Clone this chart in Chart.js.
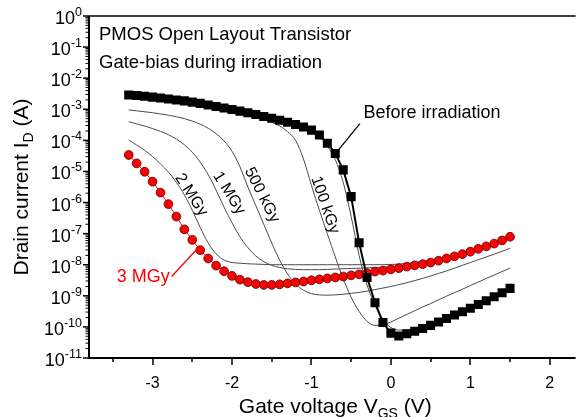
<!DOCTYPE html>
<html><head><meta charset="utf-8">
<script src="https://cdn.jsdelivr.net/npm/chart.js@4.4.1/dist/chart.umd.min.js"></script>
<style>html,body{margin:0;padding:0;background:#fff;}canvas{display:block;}</style>
</head><body>
<canvas id="c" width="580" height="417"></canvas>
<script>
// Gate voltage (V) sample points
const gateVoltage = [-3.3,-3.2,-3.1,-3.0,-2.9,-2.8,-2.7,-2.6,-2.5,-2.4,-2.3,-2.2,-2.1,-2.0,
  -1.9,-1.8,-1.7,-1.6,-1.5,-1.4,-1.3,-1.2,-1.1,-1.0,-0.9,-0.8,-0.7,-0.6,-0.5,-0.4,-0.3,-0.2,-0.1,
  0.0,0.1,0.2,0.3,0.4,0.5,0.6,0.7,0.8,0.9,1.0,1.1,1.2,1.3,1.4,1.5];

// log10 of drain current (A)
const beforeLog10 = [-2.54,-2.56,-2.58,-2.61,-2.64,-2.67,-2.70,-2.73,-2.77,-2.81,-2.86,-2.91,-2.96,-3.01,
  -3.06,-3.11,-3.17,-3.23,-3.29,-3.35,-3.42,-3.49,-3.57,-3.67,-3.83,-4.09,-4.42,-4.95,-5.81,-7.29,-8.41,-9.22,-9.86,
  -10.20,-10.29,-10.22,-10.14,-10.05,-9.95,-9.84,-9.73,-9.62,-9.51,-9.40,-9.28,-9.16,-9.03,-8.90,-8.76];
const mgy3Log10 = [-4.47,-4.74,-5.01,-5.33,-5.68,-6.05,-6.45,-6.86,-7.20,-7.53,-7.80,-8.03,-8.21,-8.36,
  -8.48,-8.56,-8.62,-8.65,-8.65,-8.63,-8.60,-8.57,-8.54,-8.50,-8.47,-8.44,-8.41,-8.38,-8.34,-8.31,-8.27,-8.22,-8.19,
  -8.15,-8.11,-8.06,-8.02,-7.98,-7.93,-7.87,-7.80,-7.73,-7.66,-7.58,-7.49,-7.41,-7.32,-7.22,-7.10];
const hugLog10 = [-2.57,-2.59,-2.61,-2.64,-2.67,-2.70,-2.73,-2.76,-2.80,-2.84,-2.89,-2.94,-2.99,-3.04,
  -3.09,-3.14,-3.20,-3.26,-3.32,-3.38,-3.45,-3.52,-3.60,-3.71,-3.88,-4.18,-4.62,-5.35,-6.45,-7.70,-8.65,-9.30,-9.75,
  -10.02,-10.10,-10.10,-10.05,-9.98,-9.90,-9.80,-9.69,-9.58,-9.47,-9.36,-9.24,-9.12,-8.99,-8.86,-8.72];
const kgy100Log10 = [-2.60,-2.62,-2.64,-2.67,-2.70,-2.73,-2.76,-2.79,-2.83,-2.87,-2.92,-2.97,-3.02,-3.07,
  -3.12,-3.18,-3.25,-3.33,-3.42,-3.54,-3.72,-4.00,-4.60,-5.45,-6.25,-7.00,-7.75,-8.45,-9.05,-9.50,-9.82,-9.95,-9.93,
  -9.84,-9.72,-9.60,-9.48,-9.36,-9.25,-9.13,-9.01,-8.90,-8.79,-8.67,-8.56,-8.44,-8.33,-8.22,-8.11];
const kgy500Log10 = [-3.02,-3.05,-3.08,-3.11,-3.15,-3.19,-3.24,-3.30,-3.38,-3.48,-3.61,-3.78,-4.02,-4.35,
  -4.85,-5.50,-6.10,-6.70,-7.30,-7.85,-8.30,-8.62,-8.82,-8.93,-8.97,-8.98,-8.97,-8.95,-8.92,-8.89,-8.85,-8.80,-8.75,
  -8.70,-8.64,-8.58,-8.51,-8.44,-8.36,-8.28,-8.20,-8.11,-8.02,-7.93,-7.84,-7.75,-7.66,-7.57,-7.47];
const mgy1Log10 = [-3.40,-3.47,-3.54,-3.62,-3.71,-3.82,-3.96,-4.14,-4.38,-4.70,-5.10,-5.60,-6.15,-6.65,
  -7.10,-7.45,-7.72,-7.90,-8.02,-8.09,-8.13,-8.15,-8.16,-8.16,-8.16,-8.15,-8.14,-8.13,-8.12,-8.11,-8.10,-8.09,-8.08,
  -8.06,-8.04,-8.02,-7.99,-7.95,-7.91,-7.86,-7.80,-7.74,-7.67,-7.60,-7.52,-7.44,-7.36,-7.27,-7.17];
const mgy2Log10 = [-3.99,-4.15,-4.32,-4.52,-4.76,-5.02,-5.35,-5.75,-6.25,-6.80,-7.30,-7.65,-7.85,-7.93,
  -7.95,-7.97,-7.98,-7.99,-8.00,-8.00,-8.00,-8.00,-8.00,-8.00,-8.00,-8.00,-8.00,-8.00,-8.00,-8.00,-8.00,-8.00,-8.00,
  -7.99,-7.98,-7.96,-7.93,-7.90,-7.86,-7.81,-7.76,-7.70,-7.63,-7.56,-7.49,-7.41,-7.33,-7.24,-7.15];

// Axis ticks
const xTickValues = [-3,-2,-1,0,1,2];
const xTickLabels = ['-3','-2','-1','0','1','2'];
const xMinorTicks = [-3.5,-2.5,-1.5,-0.5,0.5,1.5];
const yDecadeExponents = [0,-1,-2,-3,-4,-5,-6,-7,-8,-9,-10,-11];

// Curve labels (anchored in data space)
const curveLabelText = ['2 MGy','1 MGy','500 kGy','100 kGy'];
const curveLabelV = [-2.514,-2.037,-1.623,-0.829];
const curveLabelLog10 = [-5.756,-5.70,-5.756,-6.077];
const curveLabelAngle = [57,58,63,71];

const FONT = '"Liberation Sans", Arial, Helvetica, sans-serif';
const pts = logs => gateVoltage.map((v,i)=>({x:v, y:Math.pow(10, logs[i])}));
const thin = (label, logs) => ({label, data:pts(logs), borderColor:'#4a4a4a', borderWidth:1,
  pointRadius:0, cubicInterpolationMode:'monotone', fill:false});

function richWidth(ctx, parts){
  let w=0; for(const p of parts){ ctx.font = p.size+'px '+FONT; w += ctx.measureText(p.t).width; } return w;
}
function drawRich(ctx, parts, x, y){
  for(const p of parts){ ctx.font = p.size+'px '+FONT; ctx.fillText(p.t, x, y + (p.dy||0)); x += ctx.measureText(p.t).width; }
}

const decorPlugin = {
  id:'decor',
  afterDraw(ch){
    const {ctx, chartArea:a, scales:{x, y}} = ch;
    ctx.save();
    ctx.strokeStyle = '#000'; ctx.fillStyle = '#000';
    // frame (right side is outside the picture)
    ctx.lineWidth = 1.5;
    ctx.beginPath(); ctx.moveTo(a.right+2, a.top); ctx.lineTo(a.left, a.top); ctx.stroke();
    ctx.lineWidth = 2;
    ctx.beginPath(); ctx.moveTo(a.left, a.top); ctx.lineTo(a.left, a.bottom); ctx.lineTo(a.right+2, a.bottom); ctx.stroke();
    // x ticks
    ctx.lineWidth = 1.5;
    for(const v of xTickValues){ const px = Math.round(x.getPixelForValue(v)); ctx.beginPath(); ctx.moveTo(px, a.bottom); ctx.lineTo(px, a.bottom+7); ctx.stroke(); }
    for(const v of xMinorTicks){ const px = Math.round(x.getPixelForValue(v)); ctx.beginPath(); ctx.moveTo(px, a.bottom); ctx.lineTo(px, a.bottom+4); ctx.stroke(); }
    // y ticks
    for(const e of yDecadeExponents){
      const py = y.getPixelForValue(Math.pow(10,e));
      ctx.lineWidth = 1.5; ctx.beginPath(); ctx.moveTo(a.left-6, py); ctx.lineTo(a.left, py); ctx.stroke();
      if(e < 0){
        ctx.lineWidth = 1;
        for(let m=2;m<=9;m++){
          const pm = y.getPixelForValue(m*Math.pow(10,e));
          ctx.beginPath(); ctx.moveTo(a.left-3.5, pm); ctx.lineTo(a.left, pm); ctx.stroke();
        }
      }
    }
    // x tick labels
    ctx.font = '16px '+FONT; ctx.textAlign = 'center'; ctx.textBaseline = 'alphabetic';
    xTickValues.forEach((v,i)=>{ ctx.fillText(xTickLabels[i], x.getPixelForValue(v), a.bottom+30); });
    // y tick labels
    ctx.textAlign = 'left';
    for(const e of yDecadeExponents){
      const py = y.getPixelForValue(Math.pow(10,e));
      const parts = [{t:'10', size:18, dy:8}, {t:String(e), size:12.5, dy:0}];
      const w = richWidth(ctx, parts);
      drawRich(ctx, parts, a.left-7-w, py);
    }
    // x title
    const xt = [{t:'Gate voltage V', size:21},{t:'GS', size:14, dy:5},{t:' (V)', size:21}];
    drawRich(ctx, xt, (a.left+a.right)/2 + 4 - richWidth(ctx, xt)/2, 413);
    // y title
    ctx.save();
    ctx.translate(28, (a.top+a.bottom)/2);
    ctx.rotate(-Math.PI/2);
    const yt = [{t:'Drain current I', size:21},{t:'D', size:14, dy:5},{t:' (A)', size:21}];
    drawRich(ctx, yt, -richWidth(ctx, yt)/2, 0);
    ctx.restore();
    // headings
    ctx.font = '18.5px '+FONT;
    ctx.fillText('PMOS Open Layout Transistor', a.left+10, a.top+24);
    ctx.fillText('Gate-bias during irradiation', a.left+10, a.top+52);
    // curve labels
    ctx.font = '16px '+FONT; ctx.textAlign = 'center'; ctx.textBaseline = 'middle';
    curveLabelText.forEach((t,i)=>{
      ctx.save();
      ctx.translate(x.getPixelForValue(curveLabelV[i]), y.getPixelForValue(Math.pow(10, curveLabelLog10[i])));
      ctx.rotate(curveLabelAngle[i]*Math.PI/180);
      ctx.fillText(t, 0, 0);
      ctx.restore();
    });
    // Before irradiation label + leader
    ctx.textAlign = 'left'; ctx.textBaseline = 'alphabetic';
    ctx.font = '18px '+FONT;
    ctx.fillText('Before irradiation', x.getPixelForValue(-0.344), y.getPixelForValue(Math.pow(10,-3.29)));
    ctx.lineWidth = 1.3;
    ctx.beginPath();
    ctx.moveTo(x.getPixelForValue(-0.39), y.getPixelForValue(Math.pow(10,-3.46)));
    ctx.lineTo(x.getPixelForValue(-0.69), y.getPixelForValue(Math.pow(10,-4.40)));
    ctx.stroke();
    // 3 MGy label + leader
    ctx.fillStyle = '#ff0000'; ctx.strokeStyle = '#ff0000';
    ctx.fillText('3 MGy', x.getPixelForValue(-3.45), y.getPixelForValue(Math.pow(10,-8.553)));
    ctx.beginPath();
    ctx.moveTo(x.getPixelForValue(-2.76), y.getPixelForValue(Math.pow(10,-8.38)));
    ctx.lineTo(x.getPixelForValue(-2.43), y.getPixelForValue(Math.pow(10,-7.47)));
    ctx.stroke();
    ctx.restore();
  }
};

new Chart(document.getElementById('c'), {
  type:'line',
  data:{datasets:[
    {label:'Before irradiation', data:pts(beforeLog10), borderColor:'#000', borderWidth:2, tension:0,
      pointStyle:'rect', pointRadius:6.4, pointBackgroundColor:'#000', pointBorderColor:'#000', pointBorderWidth:0},
    {label:'3 MGy', data:pts(mgy3Log10), borderColor:'#ff0000', borderWidth:1, tension:0,
      pointStyle:'circle', pointRadius:4.4, pointBackgroundColor:'#ff0000', pointBorderColor:'#500000', pointBorderWidth:0.8},
    thin('pre (thin)', hugLog10),
    thin('100 kGy', kgy100Log10),
    thin('500 kGy', kgy500Log10),
    thin('1 MGy', mgy1Log10),
    thin('2 MGy', mgy2Log10)
  ]},
  options:{
    responsive:false, animation:false, devicePixelRatio:1,
    layout:{padding:{top:16, left:0, right:0, bottom:0}},
    plugins:{legend:{display:false}, tooltip:{enabled:false}},
    scales:{
      x:{type:'linear', min:-3.8, max:2.3, grid:{display:false}, border:{display:false}, ticks:{display:false},
         afterFit(s){ s.height = 59; }},
      y:{type:'logarithmic', min:1e-11, max:1, grid:{display:false}, border:{display:false}, ticks:{display:false},
         afterFit(s){ s.width = 89; }}
    }
  },
  plugins:[decorPlugin]
});
</script>
</body></html>
